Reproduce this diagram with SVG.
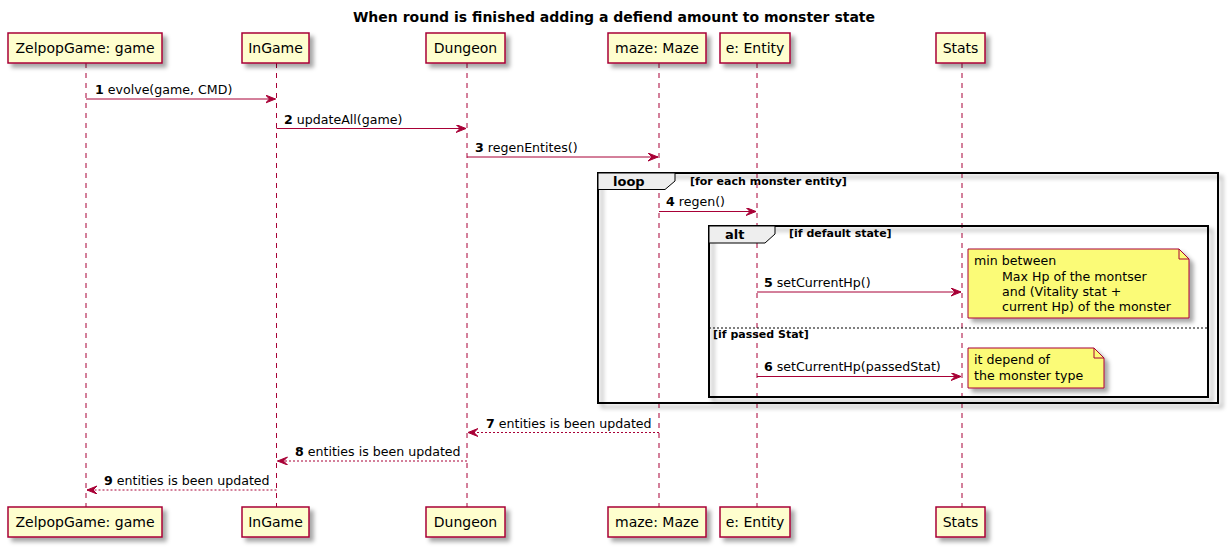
<svg xmlns="http://www.w3.org/2000/svg" width="1228" height="547" viewBox="0 0 1228 547">
<defs>
<filter id="sh" x="-20%" y="-20%" width="150%" height="160%">
<feDropShadow dx="4" dy="4" stdDeviation="2" flood-color="#000" flood-opacity="0.35"/>
</filter>
<marker id="ah" markerWidth="12" markerHeight="10" refX="10" refY="4" orient="auto" markerUnits="userSpaceOnUse">
<polygon points="0,0 10,4 0,8 4,4" fill="#A80036" stroke="#A80036" stroke-width="1"/>
</marker>
<style>
text{font-family:"DejaVu Sans","Liberation Sans",sans-serif;fill:#000}
.pbox{fill:#FEFECE;stroke:#A80036;stroke-width:1.5;filter:url(#sh)}
.pt{font-size:14px;text-anchor:middle}
.life{stroke:#A80036;stroke-width:1;stroke-dasharray:5,5}
.msg{stroke:#A80036;stroke-width:1;fill:none;marker-end:url(#ah)}
.ret{stroke:#A80036;stroke-width:1;fill:none;stroke-dasharray:2,2;marker-end:url(#ah)}
.ml{font-size:12.6px}
.frame{fill:none;stroke:#000;stroke-width:2;filter:url(#sh)}
.tab{fill:#EEEEEE;stroke:#000;stroke-width:1}
.ft{font-size:13px;font-weight:bold}
.cond{font-size:11px;font-weight:bold}
.note{fill:#FBFB77;stroke:#A80036;stroke-width:1;filter:url(#sh)}
.fold{fill:none;stroke:#A80036;stroke-width:1}
</style>
</defs>
<rect width="1228" height="547" fill="#FFFFFF"/>
<text x="614" y="22" font-size="14" font-weight="bold" text-anchor="middle">When round is finished adding a defiend amount to monster state</text>

<g id="lifelines">
<line class="life" x1="86" y1="63" x2="86" y2="507"/>
<line class="life" x1="276.5" y1="63" x2="276.5" y2="507"/>
<line class="life" x1="467" y1="63" x2="467" y2="507"/>
<line class="life" x1="659" y1="63" x2="659" y2="507"/>
<line class="life" x1="757" y1="63" x2="757" y2="507"/>
<line class="life" x1="962" y1="63" x2="962" y2="507"/>
</g>

<g id="p-zelpop">
<rect class="pbox" x="8" y="33" width="154" height="30"/>
<text class="pt" x="85" y="53">ZelpopGame: game</text>
<rect class="pbox" x="8" y="507" width="154" height="30"/>
<text class="pt" x="85" y="527">ZelpopGame: game</text>
</g>
<g id="p-ingame">
<rect class="pbox" x="242" y="33" width="67" height="30"/>
<text class="pt" x="275.5" y="53">InGame</text>
<rect class="pbox" x="242" y="507" width="67" height="30"/>
<text class="pt" x="275.5" y="527">InGame</text>
</g>
<g id="p-dungeon">
<rect class="pbox" x="426" y="33" width="79" height="30"/>
<text class="pt" x="465.5" y="53">Dungeon</text>
<rect class="pbox" x="426" y="507" width="79" height="30"/>
<text class="pt" x="465.5" y="527">Dungeon</text>
</g>
<g id="p-maze">
<rect class="pbox" x="608" y="33" width="98" height="30"/>
<text class="pt" x="657" y="53">maze: Maze</text>
<rect class="pbox" x="608" y="507" width="98" height="30"/>
<text class="pt" x="657" y="527">maze: Maze</text>
</g>
<g id="p-entity">
<rect class="pbox" x="720" y="33" width="70" height="30"/>
<text class="pt" x="755" y="53">e: Entity</text>
<rect class="pbox" x="720" y="507" width="70" height="30"/>
<text class="pt" x="755" y="527">e: Entity</text>
</g>
<g id="p-stats">
<rect class="pbox" x="936" y="33" width="49" height="30"/>
<text class="pt" x="960.5" y="53">Stats</text>
<rect class="pbox" x="936" y="507" width="49" height="30"/>
<text class="pt" x="960.5" y="527">Stats</text>
</g>

<g id="frame-loop">
<rect class="frame" x="598" y="173" width="620" height="230"/>
<polygon class="tab" points="598,173 675,173 675,181 665,189.5 598,189.5"/>
<text class="ft" x="613" y="186">loop</text>
<text class="cond" x="690" y="185">[for each monster entity]</text>
</g>
<g id="frame-alt">
<rect class="frame" x="709" y="226" width="499" height="171"/>
<polygon class="tab" points="709,226 775,226 775,234 765,243 709,243"/>
<text class="ft" x="725" y="239">alt</text>
<text class="cond" x="789" y="237">[if default state]</text>
<line x1="709" y1="328" x2="1208" y2="328" stroke="#000" stroke-width="1" stroke-dasharray="2,2"/>
<text class="cond" x="713" y="338">[if passed Stat]</text>
</g>

<g id="connectors">
<line class="msg" x1="86" y1="99" x2="275.5" y2="99"/>
<text class="ml" x="95" y="94"><tspan font-weight="bold">1</tspan> evolve(game, CMD)</text>
<line class="msg" x1="276.5" y1="128.5" x2="466" y2="128.5"/>
<text class="ml" x="284" y="123.5"><tspan font-weight="bold">2</tspan> updateAll(game)</text>
<line class="msg" x1="467" y1="157" x2="658" y2="157"/>
<text class="ml" x="475" y="152"><tspan font-weight="bold">3</tspan> regenEntites()</text>
<line class="msg" x1="659" y1="211.5" x2="756" y2="211.5"/>
<text class="ml" x="666" y="206"><tspan font-weight="bold">4</tspan> regen()</text>
<line class="msg" x1="757" y1="292" x2="961" y2="292"/>
<text class="ml" x="764" y="287"><tspan font-weight="bold">5</tspan> setCurrentHp()</text>
<line class="msg" x1="757" y1="376.5" x2="961" y2="376.5"/>
<text class="ml" x="764" y="371"><tspan font-weight="bold">6</tspan> setCurrentHp(passedStat)</text>
<line class="ret" x1="659" y1="432.5" x2="468" y2="432.5"/>
<text class="ml" x="486" y="427.5"><tspan font-weight="bold">7</tspan> entities is been updated</text>
<line class="ret" x1="467" y1="461" x2="277.5" y2="461"/>
<text class="ml" x="295" y="456"><tspan font-weight="bold">8</tspan> entities is been updated</text>
<line class="ret" x1="276.5" y1="490" x2="87" y2="490"/>
<text class="ml" x="104" y="485"><tspan font-weight="bold">9</tspan> entities is been updated</text>
</g>

<g id="note1">
<path class="note" d="M968,249 L1179,249 L1189,259 L1189,318 L968,318 Z"/>
<path class="fold" d="M1179,249 L1179,259 L1189,259"/>
<text class="ml" x="974" y="265">min between</text>
<text class="ml" x="1002" y="280.5">Max Hp of the montser</text>
<text class="ml" x="1002" y="295.5">and (Vitality stat +</text>
<text class="ml" x="1002" y="310.5">current Hp) of the monster</text>
</g>
<g id="note2">
<path class="note" d="M968,348 L1094,348 L1104,358 L1104,388 L968,388 Z"/>
<path class="fold" d="M1094,348 L1094,358 L1104,358"/>
<text class="ml" x="974" y="364">it depend of</text>
<text class="ml" x="974" y="379.5">the monster type</text>
</g>
</svg>
